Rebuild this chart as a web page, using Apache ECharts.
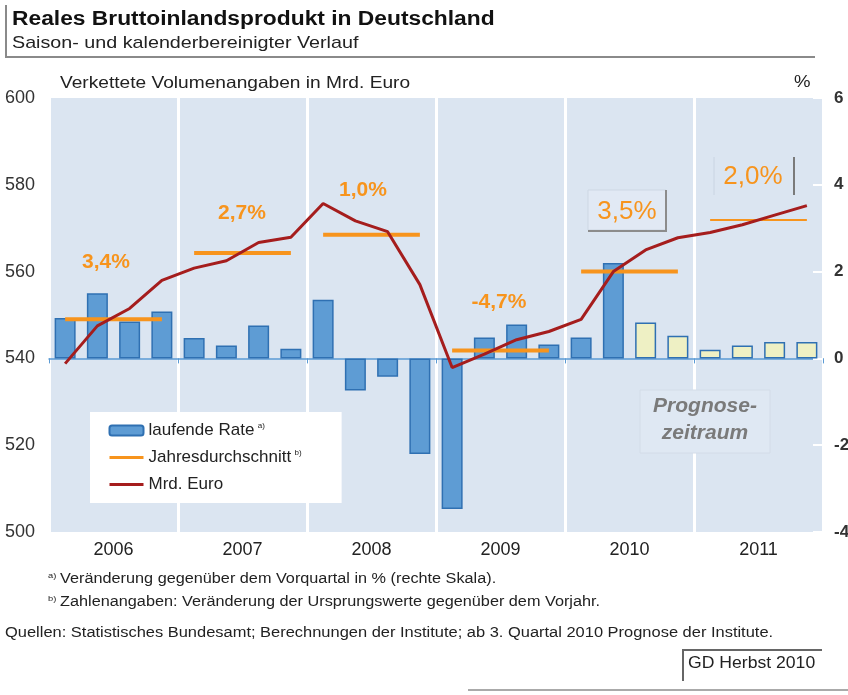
<!DOCTYPE html>
<html>
<head>
<meta charset="utf-8">
<title>Reales Bruttoinlandsprodukt in Deutschland</title>
<script src="https://cdn.jsdelivr.net/npm/echarts@6/dist/echarts.min.js"></script>
<style>
  html, body { margin: 0; padding: 0; background: #fff; }
  #chart { width: 848px; height: 695px; }
</style>
</head>
<body>
<div id="chart"></div>
<script>
// Kategorien
const jahre = ['2006', '2007', '2008', '2009', '2010', '2011'];
const quartale = [
  'I/06', 'II/06', 'III/06', 'IV/06',
  'I/07', 'II/07', 'III/07', 'IV/07',
  'I/08', 'II/08', 'III/08', 'IV/08',
  'I/09', 'II/09', 'III/09', 'IV/09',
  'I/10', 'II/10', 'III/10', 'IV/10',
  'I/11', 'II/11', 'III/11', 'IV/11'
];

// laufende Rate in % (rechte Skala)
const laufendeRate = [
  0.93, 1.50, 0.85, 1.08,
  0.47, 0.30, 0.76, 0.22,
  1.35, -0.74, -0.42, -2.20,
  -3.47, 0.48, 0.78, 0.32,
  0.48, 2.20, 0.83, 0.52,
  0.20, 0.30, 0.38, 0.38
];

// Mrd. Euro (linke Skala)
const mrdEuro = [
  538.8, 547.5, 551.5, 558.0,
  560.8, 562.5, 566.7, 567.9,
  575.7, 571.7, 569.2, 557.0,
  537.9, 541.0, 544.3, 546.2,
  549.0, 560.0, 565.0, 567.8,
  569.0, 570.8, 573.0, 575.2
];

// Jahresdurchschnitt (linke Skala) und Veränderung gegenüber Vorjahr
const jahresdurchschnitt = [549.0, 564.3, 568.5, 541.8, 560.0, 571.9];
const jahresRaten = ['3,4%', '2,7%', '1,0%', '-4,7%', '3,5%', '2,0%'];

const prognoseAb = 18; // ab 3. Quartal 2010

const chart = echarts.init(document.getElementById('chart'));

const barData = laufendeRate.map((v, i) => i >= prognoseAb
  ? { value: v, itemStyle: { color: '#eef0c4' } }
  : v);

// eine Linie pro Jahr, nur über die vier Quartale
const jahresSerien = jahresdurchschnitt.map((v, j) => ({
  name: 'Jahresdurchschnitt',
  type: 'line',
  xAxisIndex: 0,
  yAxisIndex: 0,
  symbol: 'none',
  silent: true,
  z: 3,
  lineStyle: { color: '#f7941d', width: j === jahre.length - 1 ? 2 : 4 },
  itemStyle: { color: '#f7941d' },
  data: quartale.map((q, i) => Math.floor(i / 4) === j ? v : '-')
}));

const fussnoten = {
  a: 'Veränderung gegenüber dem Vorquartal in % (rechte Skala).',
  b: 'Zahlenangaben: Veränderung der Ursprungswerte gegenüber dem Vorjahr.',
  quellen: 'Quellen: Statistisches Bundesamt; Berechnungen der Institute; ab 3. Quartal 2010 Prognose der Institute.'
};

const labelPos = [[106, 262], [242, 213], [363, 190], [499, 302], [627, 212], [753, 177]];

// Schrift im Original ist etwas breiter gezogen
const breit = 1.16;
function txt(x, y, text, size, extra, scale) {
  return {
    type: 'text', x: x, y: y, scaleX: scale || breit,
    style: Object.assign({ text: text, fontSize: size, fill: '#222', verticalAlign: 'middle' }, extra || {})
  };
}
const supRich = {
  s: { fontSize: 8, fill: '#222', verticalAlign: 'top', padding: [0, 0, 6, 0] },
  n: { fontSize: 14, fill: '#222' }
};

const option = {
  backgroundColor: '#fff',
  textStyle: { fontFamily: '"Liberation Sans", Arial, sans-serif' },
  legend: {
    orient: 'vertical',
    left: 90,
    top: 412,
    backgroundColor: '#fff',
    padding: [10, 40, 10, 18],
    itemGap: 10,
    itemWidth: 34,
    itemHeight: 10,
    data: [
      { name: 'laufende Rate' },
      { name: 'Jahresdurchschnitt', itemStyle: { opacity: 0 } },
      { name: 'Mrd. Euro', itemStyle: { opacity: 0 } }
    ],
    lineStyle: { width: 3 },
    formatter: name => {
      if (name === 'laufende Rate') return '{n|laufende Rate} {s|a)}';
      if (name === 'Jahresdurchschnitt') return '{n|Jahresdurchschnitt} {s|b)}';
      return '{n|' + name + '}';
    },
    textStyle: {
      rich: {
        n: { fontSize: 17, color: '#222' },
        s: { fontSize: 8, color: '#222', verticalAlign: 'top', padding: [0, 0, 8, 0] }
      }
    }
  },
  grid: {
    left: 49,
    right: 25,
    top: 98,
    bottom: 163,
    outerBoundsMode: 'none',
    show: true,
    backgroundColor: '#dbe5f1',
    borderWidth: 0
  },
  xAxis: [
    {
      type: 'category',
      data: quartale,
      position: 'bottom',
      axisLine: { onZero: true, onZeroAxisIndex: 1, lineStyle: { color: '#5b9bd5', width: 1.5 } },
      axisTick: { show: true, interval: 3, length: 5, lineStyle: { color: '#5b9bd5' } },
      axisLabel: { show: false },
      splitLine: { show: false }
    },
    {
      type: 'category',
      data: jahre,
      position: 'bottom',
      axisLine: { show: false },
      axisTick: { show: false },
      axisLabel: { fontSize: 18, color: '#222', margin: 9 },
      splitLine: { show: true, lineStyle: { color: '#fff', width: 3 } }
    }
  ],
  yAxis: [
    {
      type: 'value',
      min: 500,
      max: 600,
      interval: 20,
      position: 'left',
      axisLine: { show: false },
      axisTick: { show: false },
      axisLabel: { fontSize: 18, color: '#333', margin: 14 },
      splitLine: { show: false }
    },
    {
      type: 'value',
      min: -4,
      max: 6,
      interval: 2,
      position: 'right',
      axisLine: { show: false },
      axisTick: { show: true, inside: true, length: 10, lineStyle: { color: '#fff', width: 2 } },
      axisLabel: { fontSize: 17, fontWeight: 'bold', color: '#333', margin: 11 },
      splitLine: { show: false }
    }
  ],
  series: [
    {
      name: 'laufende Rate',
      type: 'bar',
      xAxisIndex: 0,
      yAxisIndex: 1,
      barWidth: 21,
      itemStyle: { color: '#5e9cd4', borderColor: '#2f70b2', borderWidth: 1.5 },
      data: barData
    },
    ...jahresSerien,
    {
      name: 'Mrd. Euro',
      type: 'line',
      xAxisIndex: 0,
      yAxisIndex: 0,
      symbol: 'none',
      z: 4,
      lineStyle: { color: '#a51d1d', width: 3 },
      itemStyle: { color: '#a51d1d' },
      data: mrdEuro
    }
  ],
  graphic: [
    // Titel mit Rahmen
    txt(12, 19, 'Reales Bruttoinlandsprodukt in Deutschland', 20, { fontWeight: 'bold', fill: '#111' }, 1.14),
    txt(12, 43, 'Saison- und kalenderbereinigter Verlauf', 17),
    { type: 'polyline', shape: { points: [[6, 5], [6, 57], [815, 57]] },
      style: { stroke: '#8a8a8a', lineWidth: 2, fill: null } },
    txt(60, 83, 'Verkettete Volumenangaben in Mrd. Euro', 16.5),
    txt(794, 83, '%', 16),
    // Kästen um Prognosewerte
    { type: 'rect', shape: { x: 588, y: 190, width: 78, height: 40 },
      style: { fill: '#e1e9f4', stroke: '#cdd7e3', lineWidth: 1 }, z: 5 },
    { type: 'polyline', shape: { points: [[666, 190], [666, 231], [588, 231]] },
      style: { stroke: '#8c8c8c', lineWidth: 2, fill: null }, z: 5 },
    { type: 'line', shape: { x1: 714, y1: 157, x2: 714, y2: 195 },
      style: { stroke: '#c9d4e2', lineWidth: 1 }, z: 5 },
    { type: 'line', shape: { x1: 794, y1: 157, x2: 794, y2: 195 },
      style: { stroke: '#7a7a7a', lineWidth: 2 }, z: 5 },
    // Jahresraten
    ...jahresRaten.map((t, j) => ({
      type: 'text',
      x: labelPos[j][0],
      y: labelPos[j][1],
      z: 6,
      style: {
        text: t,
        fontSize: j >= 4 ? 26 : 21,
        fontWeight: j >= 4 ? 'normal' : 'bold',
        fill: '#f7941d',
        align: 'center',
        verticalAlign: 'middle'
      }
    })),
    // Prognosezeitraum
    { type: 'rect', shape: { x: 640, y: 390, width: 130, height: 63 },
      style: { fill: '#dfe8f3', stroke: '#d3dce8', lineWidth: 1 }, z: 5 },
    { type: 'text', x: 705, y: 420, z: 6,
      style: { text: 'Prognose-\nzeitraum', fontSize: 21, fontWeight: 'bold', fontStyle: 'italic',
        fill: '#7a7a7a', align: 'center', verticalAlign: 'middle', lineHeight: 27 } },
    // Fußnoten
    { type: 'text', x: 48, y: 572, scaleX: breit,
      style: { text: '{s|a)} {n|' + fussnoten.a + '}', rich: supRich } },
    { type: 'text', x: 48, y: 595, scaleX: breit,
      style: { text: '{s|b)} {n|' + fussnoten.b + '}', rich: supRich } },
    txt(5, 633, fussnoten.quellen, 14, null, 1.175),
    { type: 'polyline', shape: { points: [[683, 681], [683, 650], [822, 650]] },
      style: { stroke: '#666', lineWidth: 2, fill: null } },
    txt(688, 664, 'GD Herbst 2010', 16, null, 1.1),
    { type: 'line', shape: { x1: 468, y1: 690, x2: 848, y2: 690 },
      style: { stroke: '#aaa', lineWidth: 2 } }
  ]
};

chart.setOption(option);
</script>
</body>
</html>
